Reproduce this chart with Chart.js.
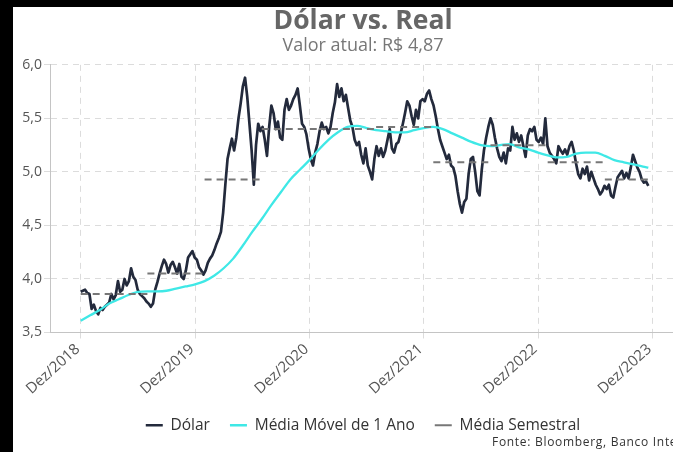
<!DOCTYPE html>
<html lang="pt-BR">
<head>
<meta charset="utf-8">
<script src="https://cdn.jsdelivr.net/npm/chart.js@4/dist/chart.umd.min.js"></script>
<style>
  html, body { margin: 0; padding: 0; background: #000; width: 673px; height: 452px; overflow: hidden; }
  #frame { position: absolute; left: 13px; top: 7px; width: 700px; height: 445px; background: #fff; }
  canvas { display: block; }
</style>
</head>
<body>
<div id="frame"><canvas id="grafico" width="700" height="445"></canvas></div>
<script>
// Cotação semanal do dólar (R$), de dez/2018 a dez/2023
const dolarSemanal = [
  3.88, 3.89, 3.90, 3.87, 3.86, 3.72, 3.76, 3.70, 3.67, 3.73, 3.71, 3.74, 3.76, 3.78,
  3.86, 3.81, 3.85, 3.98, 3.88, 3.90, 4.00, 3.94, 3.98, 4.10, 4.02, 3.99, 3.90, 3.86,
  3.84, 3.82, 3.79, 3.77, 3.74, 3.77, 3.90, 3.97, 4.05, 4.12, 4.18, 4.14, 4.06, 4.13,
  4.16, 4.11, 4.05, 4.14, 4.02, 4.00, 4.08, 4.20, 4.23, 4.26, 4.20,
  4.18, 4.11, 4.08, 4.04, 4.08, 4.15, 4.19, 4.22, 4.27, 4.33, 4.38, 4.44, 4.62, 4.88,
  5.12, 5.22, 5.31, 5.20, 5.32, 5.50, 5.64, 5.80, 5.88, 5.70, 5.45, 5.20, 4.88, 5.25,
  5.45, 5.38, 5.42, 5.30, 5.15, 5.42, 5.62, 5.55, 5.40, 5.47, 5.32, 5.30, 5.58, 5.68,
  5.58, 5.62, 5.68, 5.72, 5.78, 5.62, 5.45, 5.42, 5.35, 5.22,
  5.12, 5.06, 5.18, 5.26, 5.38, 5.46, 5.40, 5.42, 5.36, 5.42, 5.55, 5.65, 5.82, 5.70,
  5.78, 5.66, 5.72, 5.60, 5.48, 5.42, 5.30, 5.25, 5.28, 5.16, 5.08, 5.22, 5.06, 5.00,
  4.93, 5.12, 5.24, 5.15, 5.22, 5.14, 5.20, 5.30, 5.40, 5.22, 5.18, 5.26, 5.28, 5.36,
  5.45, 5.55, 5.66, 5.62, 5.52, 5.44, 5.58, 5.50, 5.66, 5.68,
  5.66, 5.73, 5.76, 5.68, 5.62, 5.52, 5.40, 5.30, 5.24, 5.18, 5.12, 5.16, 5.06, 5.04,
  4.96, 4.82, 4.70, 4.62, 4.72, 4.75, 4.98, 5.12, 5.14, 5.00, 4.82, 4.78, 5.02, 5.20,
  5.32, 5.42, 5.50, 5.44, 5.32, 5.22, 5.14, 5.10, 5.18, 5.08, 5.22, 5.20, 5.42, 5.30,
  5.36, 5.28, 5.34, 5.24, 5.14, 5.34, 5.40, 5.38, 5.42, 5.30,
  5.28, 5.32, 5.26, 5.50, 5.24, 5.18, 5.15, 5.12, 5.08, 5.24, 5.20, 5.17, 5.21, 5.16,
  5.24, 5.28, 5.20, 5.08, 4.98, 4.94, 5.03, 4.98, 5.05, 4.92, 5.00, 4.94, 4.88, 4.84,
  4.79, 4.82, 4.87, 4.84, 4.88, 4.78, 4.76, 4.86, 4.95, 4.98, 5.01, 4.94, 4.99, 4.94,
  5.04, 5.16, 5.10, 5.04, 5.00, 4.93, 4.90, 4.91, 4.87
];

// Média móvel de 1 ano, um valor por mês (dez/2018 em diante) e o valor da última data
const mediaMovelMensal = [
  3.61, 3.66, 3.71, 3.77, 3.81, 3.85, 3.88, 3.885, 3.885, 3.89, 3.91, 3.93,
  3.95, 3.98, 4.03, 4.10, 4.19, 4.31, 4.44, 4.56, 4.69, 4.81, 4.93, 5.02,
  5.11, 5.21, 5.30, 5.37, 5.42, 5.43, 5.41, 5.39, 5.38, 5.37, 5.37, 5.39,
  5.41, 5.42, 5.40, 5.36, 5.32, 5.28, 5.25, 5.24, 5.25, 5.26, 5.23, 5.21,
  5.18, 5.155, 5.135, 5.14, 5.17, 5.18, 5.18, 5.15, 5.11, 5.09, 5.07, 5.05
];
const mediaMovelFinal = 5.04;

// Média de cada semestre (meses contados a partir de dez/2018)
const semestreInicio = [0, 7, 13, 19, 25, 31, 37, 43, 49, 55];
const semestreFim    = [7, 13, 19, 25, 31, 37, 43, 49, 55, 59.56];
const mediaSemestral = [3.86, 4.05, 4.93, 5.40, 5.40, 5.42, 5.09, 5.25, 5.09, 4.93];

// Eixos
const mesesTicks = [0, 12, 24, 36, 48, 60];
const rotulosX = ['Dez/2018', 'Dez/2019', 'Dez/2020', 'Dez/2021', 'Dez/2022', 'Dez/2023'];
const ticksY = [3.5, 4.0, 4.5, 5.0, 5.5, 6.0];

const titulo = 'Dólar vs. Real';
const subtitulo = 'Valor atual: R$ 4,87';
const fonteTexto = 'Fonte: Bloomberg, Banco Inter';

const SEMANAS_ANO = 52.18;
const FONTE = '"Open Sans", "DejaVu Sans", sans-serif';

const pontosDolar = dolarSemanal.map((v, i) => ({ x: i * 12 / SEMANAS_ANO, y: v }));
const ultimaData = pontosDolar[pontosDolar.length - 1].x;
const pontosMedia = mediaMovelMensal.map((v, i) => ({ x: i, y: v }))
  .concat([{ x: ultimaData, y: mediaMovelFinal }]);
const pontosSemestre = mediaSemestral.flatMap((m, k) => [
  { x: semestreInicio[k], y: m },
  { x: semestreFim[k], y: m },
  { x: semestreFim[k], y: null }
]);

// Nota de fonte no rodapé
const notaFonte = {
  id: 'notaFonte',
  afterDraw(chart) {
    const ctx = chart.ctx;
    ctx.save();
    ctx.font = '12px ' + FONTE;
    ctx.letterSpacing = '0.7px';
    ctx.fillStyle = '#333';
    ctx.textAlign = 'left';
    ctx.textBaseline = 'middle';
    ctx.fillText(fonteTexto, 479, 436);
    ctx.restore();
  }
};

const corGrade = '#dcdcdc';
const corEixo = '#c4c4c4';

new Chart(document.getElementById('grafico'), {
  type: 'line',
  data: {
    datasets: [
      {
        label: 'Dólar',
        data: pontosDolar,
        borderColor: '#232a3c',
        backgroundColor: '#232a3c',
        borderWidth: 2.7,
        borderJoinStyle: 'round',
        pointRadius: 0,
        tension: 0,
        order: 3
      },
      {
        label: 'Média Móvel de 1 Ano',
        data: pontosMedia,
        borderColor: '#3fe8e6',
        backgroundColor: '#3fe8e6',
        borderWidth: 2.3,
        pointRadius: 0,
        cubicInterpolationMode: 'monotone',
        order: 2
      },
      {
        label: 'Média Semestral',
        data: pontosSemestre,
        borderColor: '#777777',
        backgroundColor: '#777777',
        borderWidth: 2,
        borderDash: [7, 5],
        pointRadius: 0,
        spanGaps: false,
        order: 1
      }
    ]
  },
  options: {
    responsive: false,
    animation: false,
    events: [],
    layout: { padding: { left: 0, right: 0, top: 0, bottom: 9 } },
    plugins: {
      title: {
        display: true,
        text: titulo,
        color: '#666',
        font: { family: FONTE, size: 26.5, weight: 'bold', lineHeight: 1.1 },
        padding: { top: 0, bottom: 0 }
      },
      subtitle: {
        display: true,
        text: subtitulo,
        color: '#777',
        font: { family: FONTE, size: 18, lineHeight: 1.1 },
        padding: { top: 0, bottom: 8.9 }
      },
      legend: {
        position: 'bottom',
        labels: {
          usePointStyle: true,
          pointStyle: 'line',
          pointStyleWidth: 17,
          color: '#333',
          font: { family: FONTE, size: 15.5 },
          padding: 20,
          sort: (a, b) => a.datasetIndex - b.datasetIndex
        }
      },
      tooltip: { enabled: false }
    },
    scales: {
      x: {
        type: 'linear',
        min: -3.22,
        max: 66.35,
        afterBuildTicks: (s) => { s.ticks = mesesTicks.map(v => ({ value: v })); },
        afterFit: (s) => { s.height = 65; },
        ticks: {
          autoSkip: false,
          minRotation: 42,
          maxRotation: 42,
          padding: 2,
          labelOffset: -3,
          color: '#555',
          font: { family: FONTE, size: 15 },
          callback: (v) => rotulosX[mesesTicks.indexOf(v)]
        },
        grid: { color: corGrade, tickLength: 6, tickColor: corGrade },
        border: { color: corEixo, width: 1, dash: [6, 5] }
      },
      y: {
        min: 3.5,
        max: 6.0,
        afterBuildTicks: (s) => { s.ticks = ticksY.map(v => ({ value: v })); },
        afterFit: (s) => { s.width = 37; },
        ticks: {
          padding: 2,
          color: '#555',
          font: { family: FONTE, size: 14 },
          callback: (v) => v.toFixed(1).replace('.', ',')
        },
        grid: { color: corGrade, tickLength: 6, tickColor: corGrade },
        border: { color: corEixo, width: 1, dash: [6, 5] }
      }
    }
  },
  plugins: [notaFonte]
});
</script>
</body>
</html>
